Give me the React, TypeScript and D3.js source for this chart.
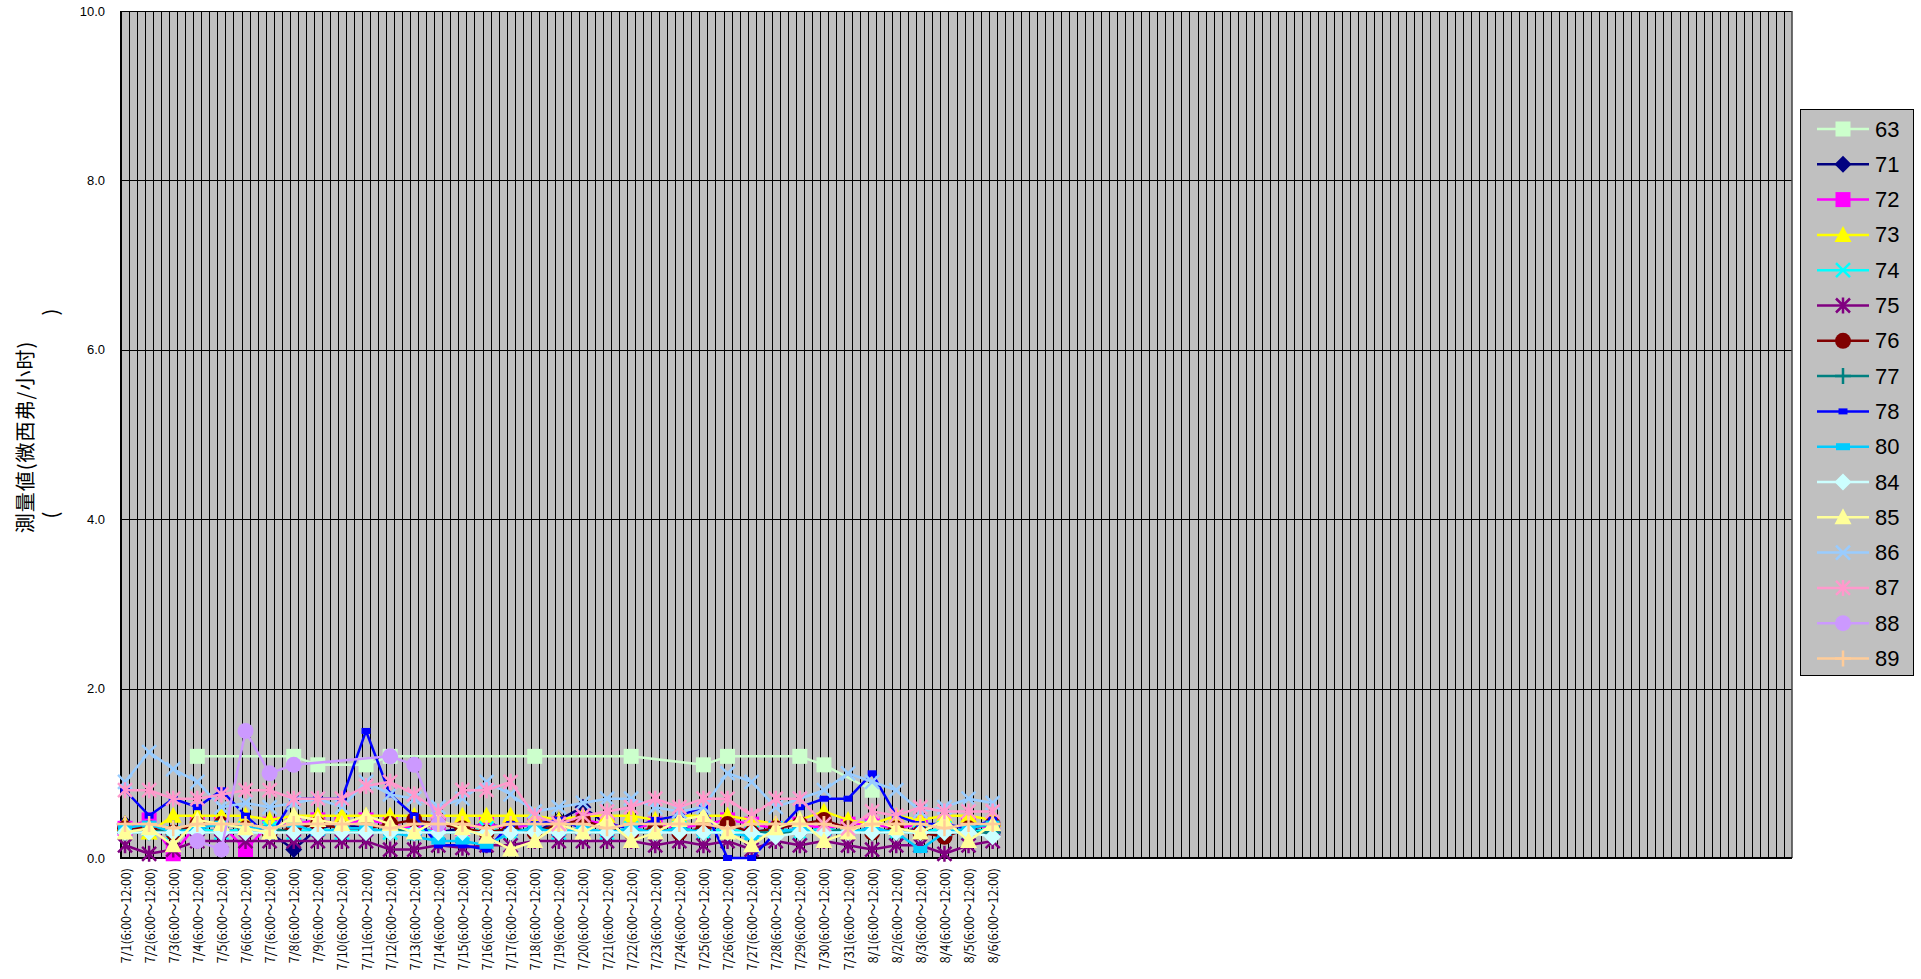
import React from 'react';
import * as d3 from 'd3';

// category labels: one label per day, three slots per day on the axis
const dayLabels = [
  '7/1', '7/2', '7/3', '7/4', '7/5', '7/6', '7/7', '7/8', '7/9', '7/10',
  '7/11', '7/12', '7/13', '7/14', '7/15', '7/16', '7/17', '7/18', '7/19', '7/20',
  '7/21', '7/22', '7/23', '7/24', '7/25', '7/26', '7/27', '7/28', '7/29', '7/30',
  '7/31', '8/1', '8/2', '8/3', '8/4', '8/5', '8/6',
];
const timeRange = '(6:00～12:00)';
const slotCount = 208;
const slotsPerDay = 3;

const yTicks = [0, 2, 4, 6, 8, 10];

const n = null;
const s63 = [n, n, n, 1.2, n, n, n, 1.2, 1.1, n, 1.1, 1.2, n, n, n, n, n, 1.2, n, n, n, 1.2, n, n, 1.1, 1.2, n, n, 1.2, 1.1, n, 0.8, n, n, n, n, n];
const s71 = [0.4, 0.35, 0.3, 0.35, 0.3, 0.35, 0.3, 0.1, 0.35, 0.4, 0.35, 0.3, 0.35, 0.3, 0.35, 0.4, 0.35, 0.3, 0.45, 0.6, 0.4, 0.35, 0.3, 0.35, 0.3, 0.35, 0.3, 0.35, 0.3, 0.35, 0.3, 0.35, 0.3, 0.35, 0.3, 0.35, 0.3];
const s72 = [0.35, 0.45, 0.05, 0.4, 0.4, 0.1, 0.4, 0.4, 0.45, 0.4, 0.45, 0.4, 0.35, 0.4, 0.35, 0.4, 0.35, 0.4, 0.4, 0.45, 0.4, 0.35, 0.4, 0.35, 0.4, 0.45, 0.4, 0.35, 0.4, 0.35, 0.4, 0.4, 0.35, 0.4, 0.35, 0.4, 0.35];
const s73 = [0.4, 0.3, 0.5, 0.5, 0.5, 0.5, 0.45, 0.5, 0.5, 0.5, 0.5, 0.5, 0.5, 0.5, 0.5, 0.5, 0.5, 0.5, 0.45, 0.5, 0.5, 0.5, 0.45, 0.5, 0.5, 0.5, 0.45, 0.4, 0.45, 0.55, 0.45, 0.4, 0.5, 0.45, 0.5, 0.5, 0.45];
const s74 = [0.3, 0.35, 0.3, 0.35, 0.3, 0.35, 0.35, 0.3, 0.35, 0.3, 0.35, 0.3, 0.35, 0.3, 0.3, 0.35, 0.3, 0.35, 0.3, 0.35, 0.3, 0.35, 0.3, 0.35, 0.3, 0.35, 0.3, 0.35, 0.3, 0.35, 0.3, 0.35, 0.3, 0.3, 0.35, 0.3, 0.35];
const s75 = [0.15, 0.05, 0.1, 0.2, 0.2, 0.2, 0.2, 0.2, 0.2, 0.2, 0.2, 0.1, 0.1, 0.15, 0.12, 0.15, 0.15, 0.2, 0.2, 0.2, 0.2, 0.2, 0.15, 0.2, 0.15, 0.2, 0.1, 0.2, 0.15, 0.2, 0.15, 0.1, 0.15, 0.15, 0.05, 0.15, 0.2];
const s76 = [0.35, 0.35, 0.3, 0.4, 0.4, 0.35, 0.3, 0.35, 0.4, 0.35, 0.35, 0.4, 0.45, 0.4, 0.35, 0.3, 0.35, 0.3, 0.4, 0.45, 0.35, 0.3, 0.35, 0.3, 0.35, 0.4, 0.3, 0.35, 0.4, 0.45, 0.35, 0.3, 0.35, 0.3, 0.25, 0.35, 0.4];
const s77 = [0.3, 0.3, 0.35, 0.3, 0.3, 0.3, 0.35, 0.3, 0.3, 0.3, 0.3, 0.35, 0.3, 0.3, 0.3, 0.3, 0.3, 0.35, 0.3, 0.3, 0.3, 0.3, 0.3, 0.35, 0.3, 0.3, 0.3, 0.3, 0.3, 0.3, 0.35, 0.3, 0.3, 0.3, 0.3, 0.3, 0.3];
const s78 = [0.8, 0.5, 0.7, 0.6, 0.8, 0.5, 0.25, 0.7, 0.7, 0.7, 1.5, 0.75, 0.5, 0.15, 0.15, 0.1, 0.4, 0.4, 0.45, 0.35, 0.4, 0.35, 0.45, 0.5, 0.6, 0.0, 0.0, 0.3, 0.6, 0.7, 0.7, 1.0, 0.5, 0.4, 0.4, 0.35, 0.45];
const s80 = [0.35, 0.4, 0.3, 0.35, 0.4, 0.35, 0.35, 0.4, 0.3, 0.35, 0.35, 0.3, 0.25, 0.2, 0.2, 0.15, 0.3, 0.35, 0.3, 0.35, 0.3, 0.35, 0.3, 0.35, 0.3, 0.3, 0.25, 0.3, 0.35, 0.3, 0.3, 0.35, 0.3, 0.1, 0.3, 0.35, 0.4];
const s84 = [0.3, 0.3, 0.3, 0.3, 0.3, 0.3, 0.3, 0.3, 0.3, 0.3, 0.3, 0.3, 0.3, 0.3, 0.3, 0.3, 0.3, 0.3, 0.3, 0.3, 0.3, 0.3, 0.3, 0.3, 0.3, 0.3, 0.3, 0.25, 0.3, 0.3, 0.3, 0.3, 0.3, 0.3, 0.3, 0.3, 0.25];
const s85 = [0.3, 0.35, 0.15, 0.45, 0.4, 0.35, 0.3, 0.5, 0.45, 0.4, 0.5, 0.4, 0.3, 0.45, 0.35, 0.25, 0.1, 0.2, 0.4, 0.3, 0.45, 0.2, 0.3, 0.45, 0.5, 0.3, 0.15, 0.35, 0.45, 0.2, 0.3, 0.45, 0.35, 0.3, 0.45, 0.2, 0.4];
const s86 = [0.9, 1.25, 1.05, 0.9, 0.6, 0.65, 0.6, 0.65, 0.7, 0.6, 0.9, 0.75, 0.7, 0.6, 0.7, 0.9, 0.75, 0.55, 0.6, 0.65, 0.7, 0.7, 0.6, 0.55, 0.6, 1.0, 0.9, 0.6, 0.7, 0.8, 1.0, 0.9, 0.8, 0.55, 0.6, 0.7, 0.65];
const s87 = [0.8, 0.8, 0.7, 0.7, 0.75, 0.8, 0.8, 0.7, 0.7, 0.7, 0.85, 0.9, 0.75, 0.55, 0.8, 0.8, 0.9, 0.5, 0.4, 0.5, 0.55, 0.6, 0.7, 0.6, 0.7, 0.7, 0.5, 0.7, 0.7, 0.4, 0.35, 0.55, 0.5, 0.6, 0.55, 0.55, 0.55];
const s88 = [n, n, n, 0.2, 0.1, 1.5, 1.0, 1.1, n, n, n, 1.2, 1.1, 0.4, n, n, n, n, n, n, n, n, n, n, n, n, n, n, n, n, n, n, n, n, n, n, n];
const s89 = [0.4, 0.4, 0.35, 0.4, 0.4, 0.4, 0.35, 0.4, 0.4, 0.4, 0.4, 0.35, 0.4, 0.4, 0.4, 0.35, 0.4, 0.4, 0.4, 0.4, 0.35, 0.4, 0.4, 0.4, 0.4, 0.35, 0.4, 0.4, 0.4, 0.4, 0.35, 0.4, 0.4, 0.4, 0.35, 0.4, 0.4];

const seriesNames = ['63', '71', '72', '73', '74', '75', '76', '77', '78', '80', '84', '85', '86', '87', '88', '89'];
const seriesValues = [s63, s71, s72, s73, s74, s75, s76, s77, s78, s80, s84, s85, s86, s87, s88, s89];
const seriesColors = ['#CCFFCC', '#000080', '#FF00FF', '#FFFF00', '#00FFFF', '#800080', '#800000', '#008080', '#0000FF', '#00CCFF', '#CCFFFF', '#FFFF99', '#99CCFF', '#FF99CC', '#CC99FF', '#FFCC99'];
const seriesMarkers = ['square', 'diamond', 'square', 'triangle', 'x', 'star', 'circle', 'plus', 'smallrect', 'dash', 'diamond', 'triangle', 'x', 'star', 'circle', 'plus'];

const W = 1921;
const H = 979;
const plot = { left: 121, top: 11, right: 1792, bottom: 858 };

function Marker({ type, color, x, y }: { type: string; color: string; x: number; y: number }) {
  switch (type) {
    case 'square':
      return <rect x={x - 7.5} y={y - 7.5} width={15} height={15} fill={color} />;
    case 'diamond':
      return <path d={`M${x},${y - 8.5}L${x + 8.5},${y}L${x},${y + 8.5}L${x - 8.5},${y}Z`} fill={color} />;
    case 'triangle':
      return <path d={`M${x},${y - 9}L${x + 8.5},${y + 7}L${x - 8.5},${y + 7}Z`} fill={color} />;
    case 'circle':
      return <circle cx={x} cy={y} r={8} fill={color} />;
    case 'smallrect':
      return <rect x={x - 4.5} y={y - 3} width={9} height={6} fill={color} />;
    case 'dash':
      return <rect x={x - 7} y={y - 3.5} width={14} height={7} fill={color} />;
    case 'x':
      return (
        <path d={`M${x - 7},${y - 7}L${x + 7},${y + 7}M${x + 7},${y - 7}L${x - 7},${y + 7}`}
          stroke={color} strokeWidth={2.5} fill="none" />
      );
    case 'star':
      return (
        <path d={`M${x - 7},${y - 7}L${x + 7},${y + 7}M${x + 7},${y - 7}L${x - 7},${y + 7}M${x},${y - 8}L${x},${y + 8}`}
          stroke={color} strokeWidth={2.5} fill="none" />
      );
    case 'plus':
      return (
        <path d={`M${x - 8},${y}L${x + 8},${y}M${x},${y - 8}L${x},${y + 8}`}
          stroke={color} strokeWidth={2.5} fill="none" />
      );
    default:
      return null;
  }
}

export default function App() {
  const slots = d3.range(slotCount);
  const x = d3.scaleBand<number>().domain(slots).range([plot.left, plot.right]);
  const y = d3.scaleLinear().domain([0, 10]).range([plot.bottom, plot.top]);
  const bw = x.bandwidth();
  const dayX = (d: number) => (x(d * slotsPerDay) as number) + bw / 2;

  const line = d3.line<[number, number]>()
    .x(p => dayX(p[0]))
    .y(p => y(p[1]));

  const legendTop = 129;
  const legendStep = 35.3;

  return (
    <svg width={W} height={H} style={{ position: 'absolute', left: 0, top: 0, background: '#fff' }}
      fontFamily="'Liberation Sans', Arial, sans-serif">
      {/* plot area */}
      <rect x={plot.left} y={plot.top} width={plot.right - plot.left} height={plot.bottom - plot.top} fill="#C0C0C0" />
      {slots.slice(1).map(i => {
        const gx = Math.round(x(i) as number) + 0.5;
        return <line key={'v' + i} x1={gx} x2={gx} y1={plot.top} y2={plot.bottom} stroke="#000" strokeWidth={1} />;
      })}
      {yTicks.map(t => (
        <line key={'h' + t} x1={plot.left} x2={plot.right} y1={Math.round(y(t)) + 0.5} y2={Math.round(y(t)) + 0.5} stroke="#000" strokeWidth={1} />
      ))}
      <line x1={plot.right} x2={plot.right} y1={plot.top} y2={plot.bottom} stroke="#404040" strokeWidth={1.5} />
      <line x1={plot.left} x2={plot.left} y1={plot.top} y2={plot.bottom + 1} stroke="#000" strokeWidth={2} />
      <line x1={plot.left} x2={plot.right} y1={plot.bottom} y2={plot.bottom} stroke="#000" strokeWidth={2} />

      {/* y axis labels */}
      {yTicks.map(t => (
        <text key={'yt' + t} x={105} y={y(t)} textAnchor="end" dominantBaseline="central" fontSize={13} fill="#000">
          {d3.format('.1f')(t)}
        </text>
      ))}
      <text transform="translate(24,437) rotate(-90)" textAnchor="middle" dominantBaseline="central"
        fontSize={20} letterSpacing={1} fontFamily="'Noto Sans CJK JP', sans-serif" fill="#000">
        測量値(微西弗/小时)
      </text>
      <text transform="translate(49,515) rotate(-90)" textAnchor="middle" dominantBaseline="central"
        fontSize={20} fontFamily="'Noto Sans CJK JP', sans-serif" fill="#000">(</text>
      <text transform="translate(49,312) rotate(-90)" textAnchor="middle" dominantBaseline="central"
        fontSize={20} fontFamily="'Noto Sans CJK JP', sans-serif" fill="#000">)</text>

      {/* x axis labels */}
      {dayLabels.map((lab, d) => (
        <text key={'xl' + d} transform={`translate(${dayX(d)},868) rotate(-90)`} textAnchor="end"
          dominantBaseline="central" fontSize={12.5} fontFamily="'Noto Sans CJK JP', sans-serif" fill="#000">
          {lab + timeRange}
        </text>
      ))}

      {/* series */}
      {seriesValues.map((vals, s) => {
        const pts = vals
          .map((v, d) => [d, v] as [number, number | null])
          .filter(p => p[1] !== null) as [number, number][];
        return (
          <g key={'s' + s}>
            <path d={line(pts) || ''} fill="none" stroke={seriesColors[s]} strokeWidth={2.5} strokeLinejoin="round" />
            {pts.map(p => (
              <Marker key={p[0]} type={seriesMarkers[s]} color={seriesColors[s]} x={dayX(p[0])} y={y(p[1])} />
            ))}
          </g>
        );
      })}

      {/* legend */}
      <rect x={1800.5} y={109.5} width={113} height={566} fill="#C0C0C0" stroke="#000" strokeWidth={1} />
      {seriesNames.map((name, i) => {
        const ly = legendTop + i * legendStep;
        return (
          <g key={'lg' + i}>
            <line x1={1817} x2={1869} y1={ly} y2={ly} stroke={seriesColors[i]} strokeWidth={2.5} />
            <Marker type={seriesMarkers[i]} color={seriesColors[i]} x={1843} y={ly} />
            <text x={1875} y={ly} dominantBaseline="central" fontSize={22} fill="#000">{name}</text>
          </g>
        );
      })}
    </svg>
  );
}
